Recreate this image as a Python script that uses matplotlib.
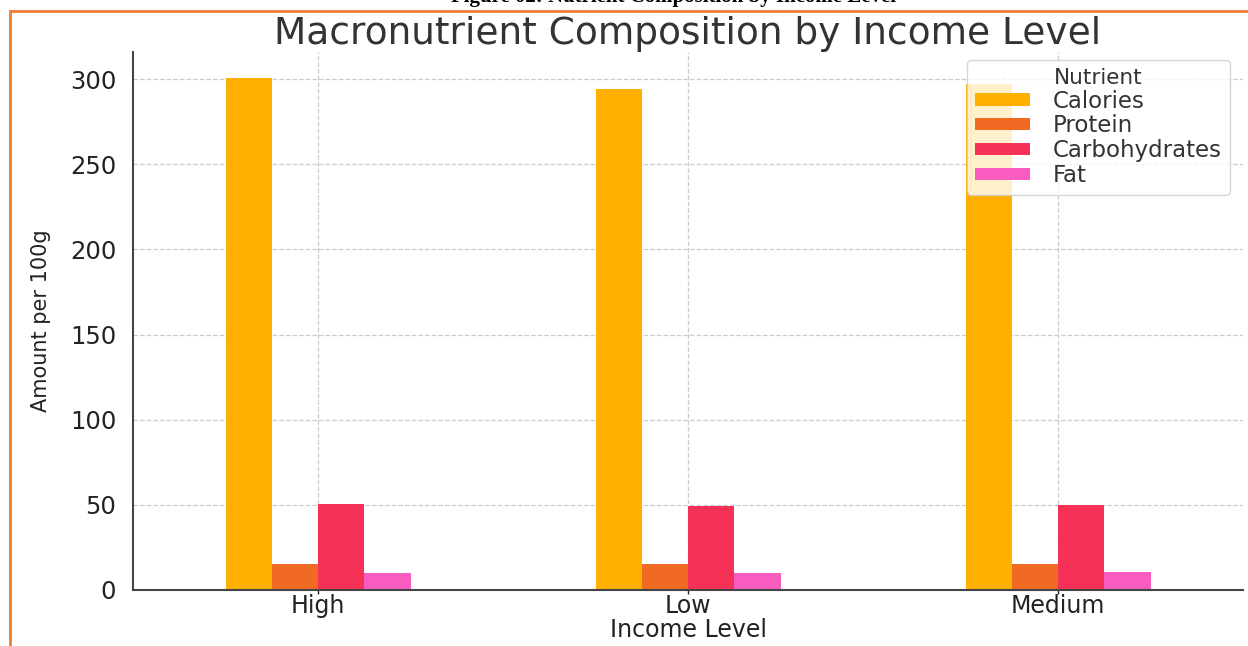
import numpy as np
import matplotlib
matplotlib.use("Agg")
import matplotlib.pyplot as plt
from matplotlib.patches import Rectangle

income_levels = ["High", "Low", "Medium"]
nutrients = ["Calories", "Protein", "Carbohydrates", "Fat"]
calories = [301, 294, 297]
protein = [15, 15, 15]
carbohydrates = [50.5, 49.3, 50]
fat = [10, 10, 10.5]
colors = ["#ffb000", "#f06a23", "#f53157", "#f85cbf"]

series = [calories, protein, carbohydrates, fat]

plt.rcParams["font.family"] = ["DejaVu Sans"]
fig = plt.figure(figsize=(12.48, 6.46), dpi=100)
ax = fig.add_axes([0.1066, 0.0867, 0.8894, 0.8328])

x = np.arange(len(income_levels))
n = len(series)
w = 0.5 / n
for i, (vals, name, c) in enumerate(zip(series, nutrients, colors)):
    ax.bar(x + (i - (n - 1) / 2) * w, vals, width=w, color=c, label=name, zorder=2)

ax.set_xlim(-0.5, len(income_levels) - 0.5)
ax.set_ylim(0, 316)
ax.set_xticks(x)
ax.set_xticklabels(income_levels)
ax.set_yticks([0, 50, 100, 150, 200, 250, 300])
ax.tick_params(axis="y", labelsize=17.5, colors="#222222", length=0, pad=12)
ax.tick_params(axis="x", labelsize=17, colors="#222222", length=3, width=1, pad=0)
ax.grid(True, linestyle="--", color="#cccccc", linewidth=0.9, zorder=0)
ax.set_axisbelow(True)
for s in ["top", "right"]:
    ax.spines[s].set_visible(False)
for s in ["left", "bottom"]:
    ax.spines[s].set_color("#444444")
    ax.spines[s].set_linewidth(1.5)

ax.set_title("Macronutrient Composition by Income Level", fontsize=27, color="#333333", pad=2)
ax.set_xlabel("Income Level", fontsize=17, color="#222222", labelpad=0)
ax.set_ylabel("Amount per 100g", fontsize=15, color="#222222", labelpad=14)

leg = ax.legend(title="Nutrient", loc="upper right", bbox_to_anchor=(0.99, 0.99),
                fontsize=16.5, title_fontsize=15.5, labelspacing=0.08,
                frameon=True, fancybox=True, framealpha=0.8, edgecolor="#cccccc",
                handlelength=2.4, handleheight=0.45, handletextpad=1.0, borderaxespad=0.1,
                borderpad=0.35)
for t in leg.get_texts():
    t.set_color("#333333")
leg.get_title().set_color("#333333")

# page decoration: orange box and clipped caption
fig.patches.append(Rectangle((10 / 1248, -0.05), 1.1, 1 - 11 / 646 + 0.05, transform=fig.transFigure,
                             fill=False, edgecolor="#ed7d31", linewidth=2, zorder=-1))
fig.text(0.54, 1.004, "Figure 02: Nutrient Composition by Income Level", ha="center", va="center",
         fontsize=15, fontweight="bold", family="Liberation Serif")

fig.savefig("out.png", dpi=100)
